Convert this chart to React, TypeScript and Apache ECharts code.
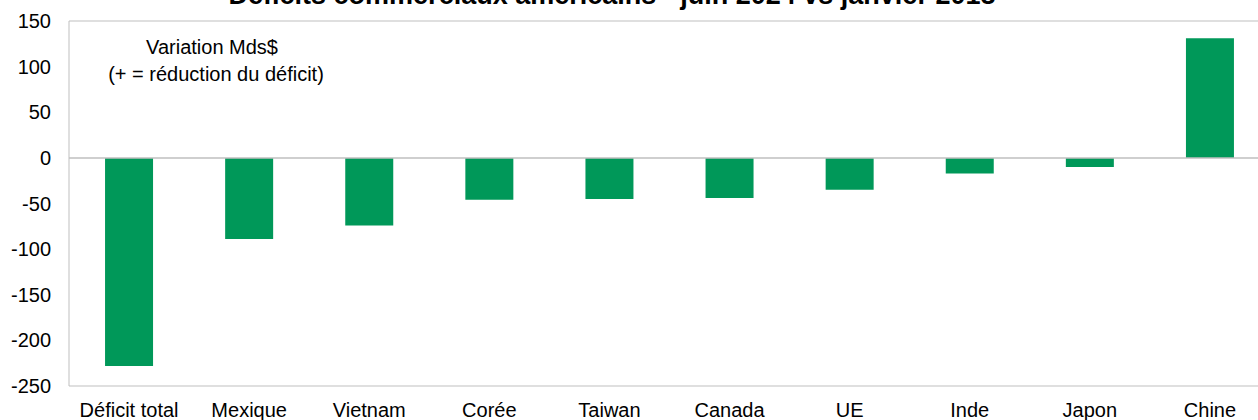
import React, { useEffect, useRef } from "react";
import * as echarts from "echarts";

const categories = ["Déficit total", "Mexique", "Vietnam", "Corée", "Taiwan", "Canada", "UE", "Inde", "Japon", "Chine"];
const variation = [-228, -89, -74, -46, -45, -44, -35, -17, -10, 131];
const titleText = "Déficits commerciaux américains - juin 2024 vs janvier 2018";
const noteLines = ["Variation Mds$", "(+ = réduction du déficit)"];

const FONT = "'Liberation Sans', Arial, sans-serif";

export default function App() {
  const ref = useRef<HTMLDivElement>(null);
  useEffect(() => {
    document.body.style.margin = "0";
    document.body.style.overflow = "hidden";
    document.documentElement.style.overflow = "hidden";
    if (!ref.current) return;
    const chart = echarts.init(ref.current, undefined, { renderer: "svg" });
    chart.setOption({
      animation: false,
      backgroundColor: "#ffffff",
      textStyle: { fontFamily: FONT },
      grid: {
        left: 69,
        right: 0,
        top: 21,
        bottom: 34,
        show: true,
        borderColor: "#bfbfbf",
        borderWidth: 1,
        containLabel: false,
      },
      graphic: [
        {
          type: "text",
          x: 612,
          y: -5,
          style: {
            text: titleText,
            fontFamily: FONT,
            fontSize: 27,
            fontWeight: "bold",
            fill: "#000",
            textAlign: "center",
            textVerticalAlign: "middle",
          },
        },
        {
          type: "text",
          x: 212,
          y: 47,
          style: {
            text: noteLines[0],
            fontFamily: FONT,
            fontSize: 20,
            fill: "#000",
            textAlign: "center",
            textVerticalAlign: "middle",
          },
        },
        {
          type: "text",
          x: 216,
          y: 74,
          style: {
            text: noteLines[1],
            fontFamily: FONT,
            fontSize: 20,
            fill: "#000",
            textAlign: "center",
            textVerticalAlign: "middle",
          },
        },
      ],
      xAxis: {
        type: "category",
        data: categories,
        position: "bottom",
        axisLine: { show: false, onZero: false },
        axisTick: { show: false },
        axisLabel: { color: "#000", fontSize: 20, fontFamily: FONT, margin: 14, interval: 0 },
        splitLine: { show: false },
      },
      yAxis: {
        type: "value",
        min: -250,
        max: 150,
        interval: 50,
        axisLine: { show: false },
        axisTick: { show: false },
        splitLine: { show: false },
        axisLabel: { color: "#000", fontSize: 20, fontFamily: FONT, margin: 18 },
      },
      series: [
        {
          type: "bar",
          data: variation,
          barWidth: 48,
          itemStyle: { color: "#009859" },
          markLine: {
            silent: true,
            symbol: "none",
            label: { show: false },
            lineStyle: { color: "#bfbfbf", width: 1.5, type: "solid" },
            data: [{ yAxis: 0 }],
          },
        },
      ],
    });
    return () => chart.dispose();
  }, []);
  return <div ref={ref} style={{ width: 1270, height: 420 }} />;
}
